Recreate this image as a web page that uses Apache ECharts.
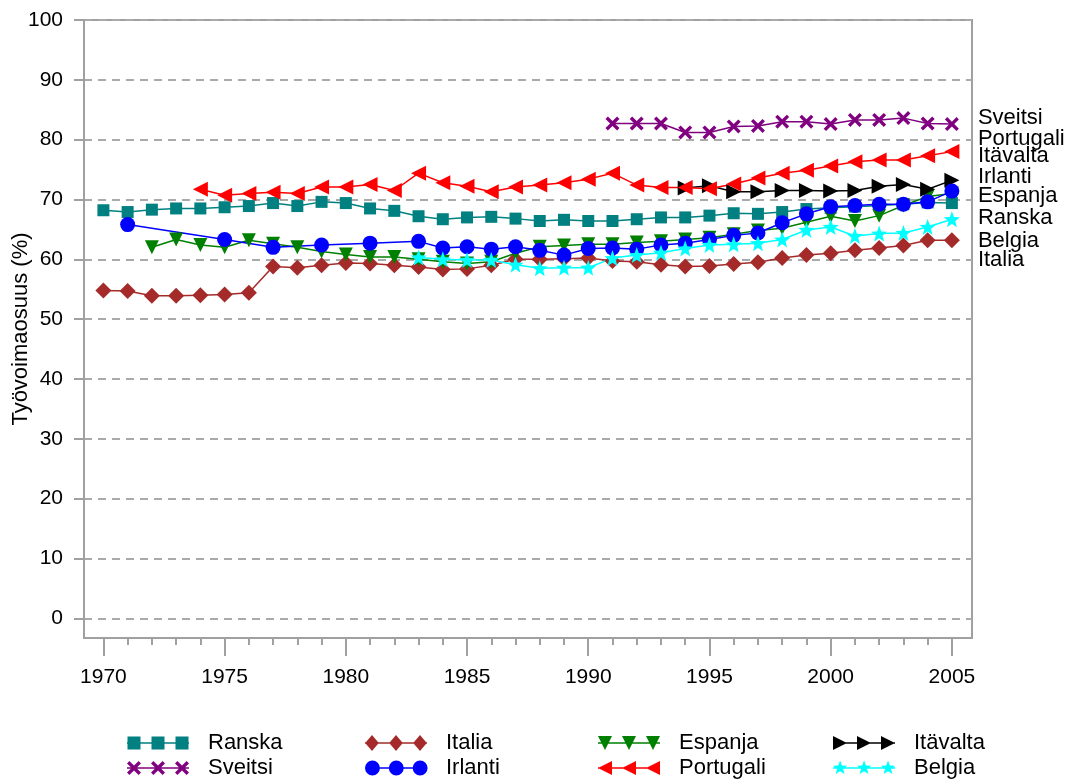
<!DOCTYPE html>
<html><head><meta charset="utf-8">
<script src="https://cdn.jsdelivr.net/npm/echarts@6/dist/echarts.min.js"></script>
<style>html,body{margin:0;padding:0;background:#fff}#c{width:1070px;height:783px}</style>
</head><body><div id="c"></div>
<script>
const years = [1970,1971,1972,1973,1974,1975,1976,1977,1978,1979,1980,1981,1982,1983,1984,1985,1986,1987,1988,1989,1990,1991,1992,1993,1994,1995,1996,1997,1998,1999,2000,2001,2002,2003,2004,2005];
const xTickLabels = [1970,1975,1980,1985,1990,1995,2000,2005];
const yTickLabels = [0,10,20,30,40,50,60,70,80,90,100];
const ranska = [68.2,67.9,68.3,68.5,68.5,68.7,68.9,69.4,68.9,69.6, 69.4,68.5,68.1,67.2,66.7,67.0,67.1,66.8,66.4,66.6, 66.4,66.4,66.7,67.0,67.0,67.3,67.7,67.6,67.9,68.4, 68.6,68.8,69.0,69.2,69.5,69.4];
const italia = [54.8,54.7,53.9,53.9,54.0,54.1,54.4,58.8,58.6,59.0, 59.4,59.3,59.0,58.7,58.3,58.4,59.0,60.0,60.0,60.1, 60.2,59.7,59.6,59.1,58.8,58.9,59.2,59.5,60.2,60.7, 61.0,61.5,61.9,62.3,63.2,63.2];
const espanja = [null,null,62.0,63.3,62.4,62.0,63.2,62.6,62.0,61.3, 60.8,60.4,60.4,60.0,59.6,59.3,59.6,61.0,62.1,62.3, 62.5,62.5,62.8,63.0,63.3,63.6,64.2,64.8,65.2,66.2, 67.2,66.4,67.3,69.0,70.5,71.0];
const itavalta = [null,null,null,null,null,null,null,null,null,null, null,null,null,null,null,null,null,null,null,null, null,null,null,null,71.9,72.3,71.3,71.3,71.5,71.5, 71.4,71.5,72.2,72.5,71.7,73.2];
const sveitsi = [null,null,null,null,null,null,null,null,null,null, null,null,null,null,null,null,null,null,null,null, null,82.7,82.7,82.7,81.2,81.2,82.2,82.3,83.0,83.0, 82.6,83.3,83.3,83.6,82.7,82.6];
const irlanti = [null,65.8,null,null,null,63.3,null,62.0,null,62.4, null,62.7,null,63.0,61.9,62.1,61.7,62.1,61.5,60.7, 61.8,61.9,61.7,62.4,62.7,63.3,64.0,64.4,66.1,67.6, 68.8,69.0,69.2,69.2,69.6,71.4];
const portugali = [null,null,null,null,71.7,70.7,71.0,71.2,71.0,72.1, 72.1,72.5,71.5,74.4,72.8,72.2,71.3,72.1,72.4,72.8, 73.4,74.4,72.4,72.0,72.0,71.8,72.6,73.6,74.4,74.9, 75.6,76.3,76.6,76.6,77.3,78.0];
const belgia = [null,null,null,null,null,null,null,null,null,null, null,null,null,60.3,60.0,59.9,59.9,59.1,58.5,58.6, 58.6,60.2,60.7,61.1,61.8,62.4,62.5,62.7,63.3,64.9, 65.4,63.9,64.3,64.4,65.4,66.7];

const FONT = "'Liberation Sans', Arial, sans-serif";
const GREY = '#a0a0a0';

function poly(pts){ return 'M' + pts.map(p => p[0].toFixed(2) + ' ' + p[1].toFixed(2)).join('L') + 'Z'; }
function shape(kind, cx, cy, s){
  const h = s/2;
  switch(kind){
    case 'rect': return poly([[cx-h,cy-h],[cx+h,cy-h],[cx+h,cy+h],[cx-h,cy+h]]);
    case 'diamond': return poly([[cx,cy-h],[cx+h*0.85,cy],[cx,cy+h],[cx-h*0.85,cy]]);
    case 'triDown': return poly([[cx-h,cy-h],[cx+h,cy-h],[cx,cy+h]]);
    case 'triRight': return poly([[cx-h,cy-h],[cx+h,cy],[cx-h,cy+h]]);
    case 'triLeft': return poly([[cx+h,cy-h],[cx+h,cy+h],[cx-h,cy]]);
    case 'circle': return `M${cx-h} ${cy}A${h} ${h} 0 1 1 ${cx+h} ${cy}A${h} ${h} 0 1 1 ${cx-h} ${cy}Z`;
    case 'cross': { const t = s*0.17; return poly([[cx-h,cy-h+t],[cx-h+t,cy-h],[cx,cy-t],[cx+h-t,cy-h],[cx+h,cy-h+t],[cx+t,cy],[cx+h,cy+h-t],[cx+h-t,cy+h],[cx,cy+t],[cx-h+t,cy+h],[cx-h,cy+h-t],[cx-t,cy]]); }
    case 'star': { const pts=[]; for(let i=0;i<10;i++){ const a=-Math.PI/2+i*Math.PI/5; const r=i%2===0?h:h*0.42; pts.push([cx+r*Math.cos(a),cy+r*Math.sin(a)]);} return poly(pts); }
  }
}
function symbolPath(kind){ return 'path://' + shape(kind, 50, 50, 100); }
function legendIcon(kind, s){
  let p = 'M0 0L0 0M76 16L76 16M0 7.2L62 7.2L62 8.8L0 8.8Z';
  [7,31,55].forEach(cx => { p += shape(kind, cx, 8, s); });
  return 'path://' + p;
}

const defs = [
  {name:'Ranska', data:ranska, color:'#008080', kind:'rect', size:12, ls:13, lab:218},
  {name:'Italia', data:italia, color:'#A52A2A', kind:'diamond', size:16, ls:16, lab:260},
  {name:'Espanja', data:espanja, color:'#008000', kind:'triDown', size:14, ls:14, lab:196},
  {name:'Itävalta', data:itavalta, color:'#000000', kind:'triRight', size:15, ls:14, lab:156},
  {name:'Sveitsi', data:sveitsi, color:'#800080', kind:'cross', size:14, ls:14, lab:118},
  {name:'Irlanti', data:irlanti, color:'#0000FF', kind:'circle', size:15, ls:15, lab:177},
  {name:'Portugali', data:portugali, color:'#FF0000', kind:'triLeft', size:15, ls:14, lab:139},
  {name:'Belgia', data:belgia, color:'#00FFFF', kind:'star', size:16, ls:15, lab:241}
];

const yMin = -3.3, yMax = 100;
const gridTop = 20, gridBottomPx = 638;
function valToPx(v){ return gridTop + (yMax - v) / (yMax - yMin) * (gridBottomPx - gridTop); }

const series = defs.map(d => {
  const last = d.data[d.data.length-1];
  return {
    name: d.name, type: 'line', data: years.map((y,i) => [y, d.data[i]]),
    connectNulls: true, symbol: symbolPath(d.kind), symbolSize: d.size,
    showAllSymbol: true,
    lineStyle: {color: d.color, width: 1.5}, itemStyle: {color: d.color},
    endLabel: {show: true, formatter: d.name, color: '#000', fontSize: 22, fontFamily: FONT,
      distance: 26, offset: [0, d.lab - valToPx(last)]},
    emphasis: {disabled: true}
  };
});

// legend layout: 4 columns x 2 rows
const legendRows = [['Ranska','Italia','Espanja','Itävalta'],['Sveitsi','Irlanti','Portugali','Belgia']];
const colLeft = [127, 365, 598, 833];
const rowTop = [732, 757];
const legends = [];
legendRows.forEach((row, ri) => row.forEach((n, ci) => {
  const d = defs.find(x => x.name === n);
  legends.push({
    orient: 'horizontal', left: colLeft[ci], top: rowTop[ri], padding: 0,
    itemWidth: 76, itemHeight: 16, selectedMode: false,
    textStyle: {fontSize: 22, fontFamily: FONT, color: '#000'},
    itemStyle: {borderWidth: 0},
    data: [{name: n, icon: legendIcon(d.kind, d.ls)}]
  });
}));

const chart = echarts.init(document.getElementById('c'), null, {renderer: 'canvas'});
chart.setOption({
  animation: false,
  backgroundColor: '#fff',
  textStyle: {fontFamily: FONT},
  legend: legends,
  grid: [
    {left: 84, right: 98, top: gridTop, bottom: 783 - gridBottomPx, show: true, borderColor: GREY, borderWidth: 2, containLabel: false, outerBoundsMode: 'none'},
    {left: 84, right: 98, top: gridTop, bottom: 783 - gridBottomPx, show: false, containLabel: false, outerBoundsMode: 'none'}
  ],
  xAxis: [
    {type: 'value', min: 1969.2, max: 2005.83, gridIndex: 0,
      axisLine: {onZero: false, lineStyle: {color: GREY, width: 2}},
      axisTick: {customValues: xTickLabels, length: 18, lineStyle: {color: GREY, width: 2}},
      axisLabel: {customValues: xTickLabels, formatter: v => String(v), fontSize: 21, color: '#000', margin: 29, fontFamily: FONT},
      splitLine: {show: false}},
    {type: 'value', min: 1969.2, max: 2005.83, gridIndex: 1,
      axisLine: {show: false, onZero: false},
      axisTick: {customValues: years, length: 7, lineStyle: {color: GREY, width: 2}},
      axisLabel: {show: false}, splitLine: {show: false}}
  ],
  yAxis: [
    {type: 'value', min: yMin, max: yMax, gridIndex: 0,
      name: 'Työvoimaosuus (%)', nameLocation: 'middle', nameGap: 52, nameMoveOverlap: false,
      nameTextStyle: {fontSize: 22, color: '#000', fontFamily: FONT},
      axisLine: {show: true, onZero: false, lineStyle: {color: GREY, width: 2}},
      axisTick: {show: true, customValues: yTickLabels, length: 10, lineStyle: {color: GREY, width: 2}},
      axisLabel: {customValues: yTickLabels, fontSize: 21, color: '#000', margin: 21, fontFamily: FONT},
      splitLine: {show: true, lineStyle: {color: '#aaaaaa', width: 2, type: [8, 6]}}},
    {type: 'value', min: yMin, max: yMax, gridIndex: 1, show: false}
  ],
  series: series
});
</script>
</body></html>
